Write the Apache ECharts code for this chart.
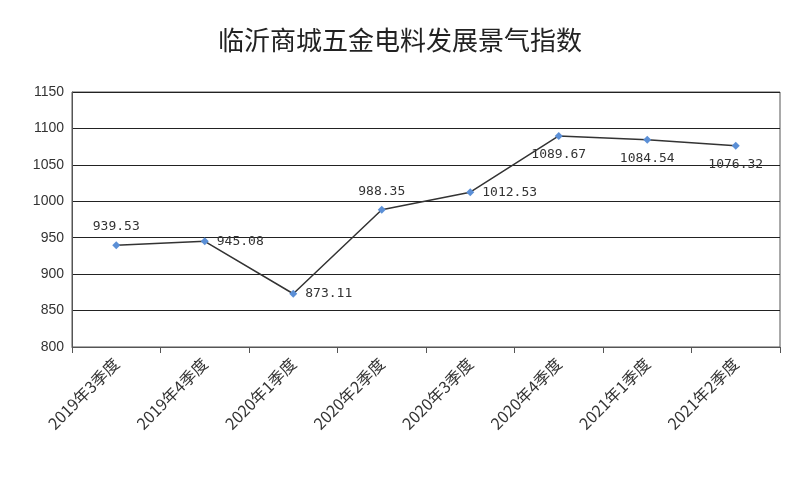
<!DOCTYPE html>
<html><head><meta charset="utf-8">
<script src="https://cdn.jsdelivr.net/npm/echarts@6/dist/echarts.min.js"></script>
<style>html,body{margin:0;padding:0;background:#fff}#c{width:800px;height:500px}</style>
</head><body><div id="c"></div>
<script>
const categories = ['2019年3季度','2019年4季度','2020年1季度','2020年2季度','2020年3季度','2020年4季度','2021年1季度','2021年2季度'];
const values = [939.53, 945.08, 873.11, 988.35, 1012.53, 1089.67, 1084.54, 1076.32];
const labelPos = ['top','right','right','top','right','bottom','bottom','bottom'];
const chart = echarts.init(document.getElementById('c'));
chart.setOption({
  animation:false,
  title:{text:'临沂商城五金电料发展景气指数',left:'center',top:22,textStyle:{fontSize:26,fontWeight:'normal',color:'#222',fontFamily:'Noto Sans CJK SC'}},
  grid:{left:72,right:20,top:92,bottom:153,show:true,borderColor:'#555',borderWidth:1},
  xAxis:{type:'category',data:categories,boundaryGap:true,
    axisLine:{lineStyle:{color:'#555'}},axisTick:{show:true,length:6,lineStyle:{color:'#555'}},
    axisLabel:{rotate:45,fontSize:16,color:'#333',margin:14,fontFamily:'Noto Sans CJK SC'}},
  yAxis:{type:'value',min:800,max:1150,interval:50,
    axisLine:{show:true,lineStyle:{color:'#555'}},axisTick:{show:false},
    axisLabel:{fontSize:14,color:'#333',fontFamily:'Liberation Sans',formatter:v=>String(v)},
    splitLine:{lineStyle:{color:'#222',width:1}}},
  series:[{type:'line',data:values.map((v,i)=>({value:v,label:{position:labelPos[i]}})),
    lineStyle:{color:'#333',width:1.5},symbol:'diamond',symbolSize:8,itemStyle:{color:'#5b8fd6'},
    label:{show:true,fontSize:13,color:'#333',fontFamily:'DejaVu Sans Mono',distance:8}}]
});
</script></body></html>
